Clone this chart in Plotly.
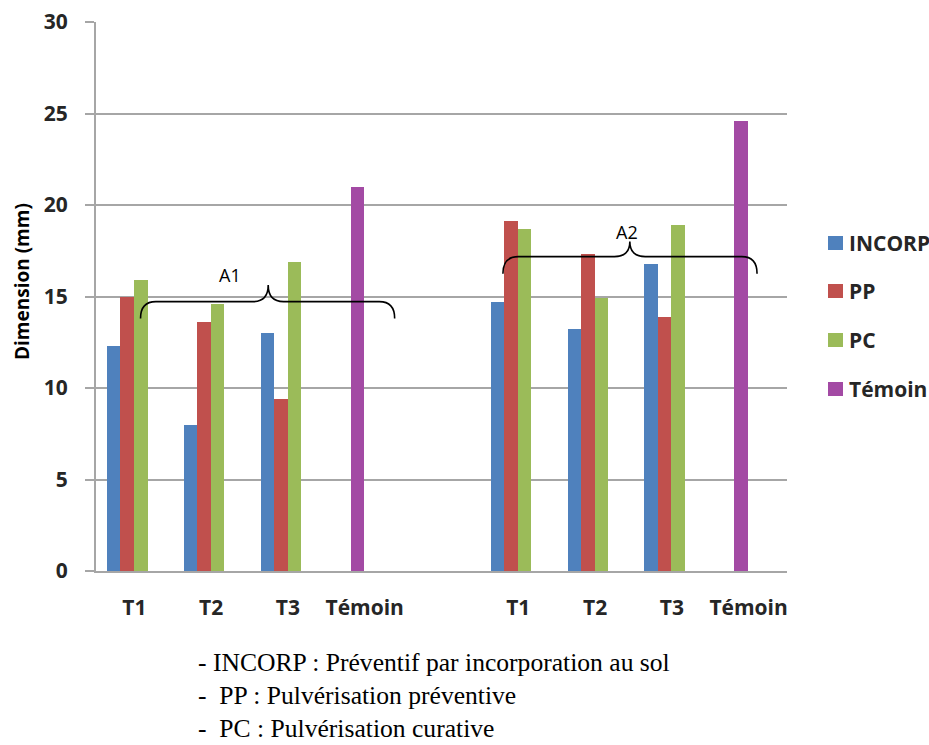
import plotly.graph_objects as go

# Tick labels for the two trial blocks (A1, A2), separated by an empty slot
tick_labels = ["T1", "T2", "T3", "Témoin", "", "T1", "T2", "T3", "Témoin"]
positions = list(range(len(tick_labels)))

# Lesion dimension (mm) per treatment
incorp = [12.3, 8.0, 13.0, None, None, 14.7, 13.2, 16.8, None]
pp = [15.0, 13.6, 9.4, None, None, 19.1, 17.3, 13.9, None]
pc = [15.9, 14.6, 16.9, None, None, 18.7, 14.9, 18.9, None]
temoin = [None, None, None, 21.0, None, None, None, None, 24.6]

series_names = ["INCORP", "PP", "PC", "Témoin"]
series_values = [incorp, pp, pc, temoin]
series_colors = ["#4F81BD", "#C0504D", "#9BBB59", "#A34AA4"]
bar_offsets = [-0.357, -0.181, -0.005, -0.185]
bar_width = 0.176

# plot area in pixels
W, H = 929, 745
L, R, T, B = 96, 787, 22, 571


def px_x(p):
    return (p - L) / (R - L)


def px_y(p):
    return (B - p) / (B - T)


axis_font = dict(family="Open Sans", size=21, color="#262626", weight="bold")

fig = go.Figure()
for name, vals, col, off in zip(series_names, series_values, series_colors, bar_offsets):
    fig.add_trace(go.Bar(
        x=positions, y=vals, name=name, marker_color=col, marker_line_width=0,
        width=bar_width, offset=off, showlegend=False,
    ))


def brace(x0, x1, xm, y_end, y_mid, y_tip, dx):
    """Curly brace path in data coordinates, opening downward."""
    return (
        f"M{x0},{y_end} Q{x0},{y_mid} {x0 + dx},{y_mid} "
        f"L{xm - dx},{y_mid} Q{xm},{y_mid} {xm},{y_tip} "
        f"Q{xm},{y_mid} {xm + dx},{y_mid} "
        f"L{x1 - dx},{y_mid} Q{x1},{y_mid} {x1},{y_end}"
    )


shapes = [
    dict(type="path", xref="x", yref="y",
         path=brace(0.08, 3.39, 1.743, 13.8, 14.72, 15.63, 0.2),
         line=dict(color="black", width=1.6)),
    dict(type="path", xref="x", yref="y",
         path=brace(4.80, 8.11, 6.453, 16.25, 17.18, 18.0, 0.2),
         line=dict(color="black", width=1.6)),
]

annotations = [
    dict(x=1.247, y=16.15, xref="x", yref="y", text="A1", showarrow=False,
         font=dict(family="Open Sans", size=18, color="black")),
    dict(x=6.418, y=18.55, xref="x", yref="y", text="A2", showarrow=False,
         font=dict(family="Open Sans", size=18, color="black")),
    dict(x=px_x(22), y=px_y(282), xref="paper", yref="paper", text="Dimension (mm)",
         textangle=-90, showarrow=False, xanchor="center", yanchor="middle",
         font=dict(family="Open Sans", size=19, color="black", weight="bold")),
]

# legend: colour swatch + series name, one row per series
legend_rows = [243, 291, 340, 389]
for name, col, yc in zip(series_names, series_colors, legend_rows):
    shapes.append(dict(type="rect", xref="paper", yref="paper",
                       x0=px_x(828), x1=px_x(843), y0=px_y(yc + 7), y1=px_y(yc - 7),
                       fillcolor=col, line=dict(width=0)))
    annotations.append(dict(x=px_x(847), y=px_y(yc), xref="paper", yref="paper",
                            xanchor="left", yanchor="middle", text=name,
                            showarrow=False, font=axis_font))

notes = [
    "- INCORP : Préventif par incorporation au sol",
    "-\u00a0 PP : Pulvérisation préventive",
    "-\u00a0 PC : Pulvérisation curative",
]
for i, line in enumerate(notes):
    annotations.append(dict(
        x=px_x(197), y=px_y(662 + 33 * i), xref="paper", yref="paper",
        xanchor="left", yanchor="middle", text=line, showarrow=False,
        borderpad=0,
        font=dict(family="Liberation Serif", size=25.6, color="black"),
    ))

fig.update_layout(
    width=W, height=H,
    margin=dict(l=L, r=W - R, t=T, b=H - B, pad=0, autoexpand=False),
    paper_bgcolor="white", plot_bgcolor="white",
    barmode="group", bargap=0, showlegend=False,
    shapes=shapes, annotations=annotations,
    xaxis=dict(range=[-0.5, 8.5], tickmode="array", tickvals=positions,
               ticktext=tick_labels, tickfont=axis_font, showgrid=False,
               showline=True, linecolor="#a6a6a6", linewidth=2,
               ticks="", ticklabelstandoff=17, zeroline=False, fixedrange=True,
               automargin=False),
    yaxis=dict(range=[0, 30], dtick=5, tickfont=axis_font, showgrid=True,
               gridcolor="#a6a6a6", gridwidth=1.8, showline=True,
               linecolor="#a6a6a6", linewidth=2, ticks="outside", ticklen=9,
               tickcolor="#a6a6a6", tickwidth=2, ticklabelstandoff=13,
               zeroline=False, fixedrange=True, automargin=False),
)

fig.write_html("out.html")
